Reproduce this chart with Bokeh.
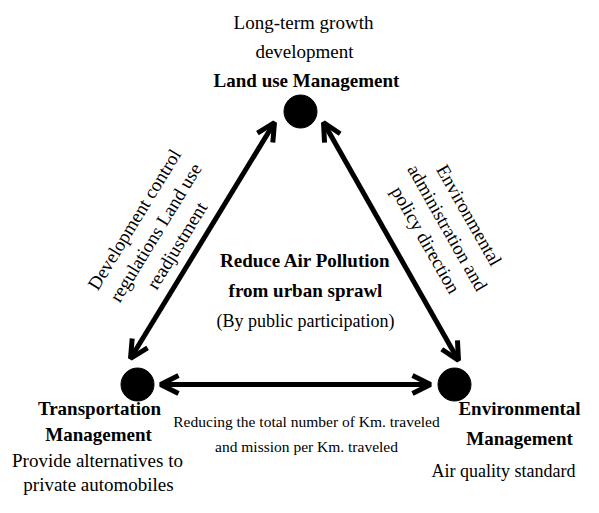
import numpy as np
from bokeh.plotting import figure
from bokeh.models import Range1d, Arrow, OpenHead, ColumnDataSource
from bokeh.core.properties import value
from bokeh.embed import file_html
from bokeh.resources import INLINE

# ---------------- content ----------------
nodes = ["Land use Management", "Transportation Management", "Environmental Management"]
top_note = ["Long-term growth", "development"]
top_title = ["Land use Management"]
left_title = ["Transportation", "Management"]
left_note = ["Provide alternatives to", "private automobiles"]
right_title = ["Environmental", "Management"]
right_note = ["Air quality standard"]
center_title = ["Reduce Air Pollution", "from urban sprawl"]
center_note = ["(By public participation)"]
link_left = ["Development control", "regulations Land use", "readjustment"]
link_right = ["Environmental", "administration and", "policy direction"]
link_bottom = ["Reducing the total number of Km. traveled", "and mission per Km. traveled"]

# ---------------- layout (pixel space of the picture) ----------------
W, H = 583, 497
p = figure(width=W, height=H, output_backend="svg", toolbar_location=None,
           x_range=Range1d(0, W), y_range=Range1d(H, 0),
           min_border=0, background_fill_color="white", border_fill_color="white")
p.axis.visible = False
p.grid.visible = False
p.outline_line_color = None

FONT = value("Liberation Serif")

def add_lines(lines, xs, ys, size, bold=False, angle=0.0):
    src = ColumnDataSource(dict(x=list(xs), y=list(ys), t=list(lines)))
    p.text(x="x", y="y", text="t", source=src, angle=angle, angle_units="deg",
           text_font=FONT, text_font_size=size,
           text_font_style="bold" if bold else "normal",
           text_align="center", text_baseline="middle", text_color="black")

def rotated_block(lines, cx, cy, angle_deg, spacing):
    th = np.deg2rad(angle_deg)
    n = np.array([np.sin(th), np.cos(th)])  # next-line direction on screen (y down)
    k = np.arange(len(lines)) - (len(lines) - 1) / 2
    return cx + k * spacing * n[0], cy + k * spacing * n[1]

# node markers
node_x = [300, 137, 454]
node_y = [111, 384, 384]
p.scatter(node_x, node_y, size=33, color="black")

# arrows
head = dict(size=18, line_width=5, line_color="black")
for (xs, ys, xe, ye) in [(130, 358, 274, 122), (323, 122, 458, 360), (160, 384, 430, 384)]:
    p.add_layout(Arrow(start=OpenHead(**head), end=OpenHead(**head),
                       x_start=xs, y_start=ys, x_end=xe, y_end=ye,
                       line_width=5, line_color="black"))

# node texts
add_lines(top_note, [303, 304], [22, 51], "19px")
add_lines(top_title, [306], [80], "19px", bold=True)
add_lines(left_title, [99, 98], [408, 434], "19px", bold=True)
add_lines(left_note, [97, 98], [460, 484], "19px")
add_lines(right_title, [519, 519], [408, 438], "19px", bold=True)
add_lines(right_note, [503], [470], "18px")

# centre texts
add_lines(center_title, [305, 305], [260, 290], "19px", bold=True)
add_lines(center_note, [305], [320], "18px")

# link texts
add_lines(link_bottom, [306, 306], [421, 446], "15.5px")
lx, ly = rotated_block(link_left, 155, 232, 58.6, 25)
add_lines(link_left, lx, ly, "19px", angle=58.6)
rx, ry = rotated_block(link_right, 447, 227, -60.4, 25)
add_lines(link_right, rx, ry, "19px", angle=-60.4)

open("out.html", "w").write(file_html(p, INLINE))
